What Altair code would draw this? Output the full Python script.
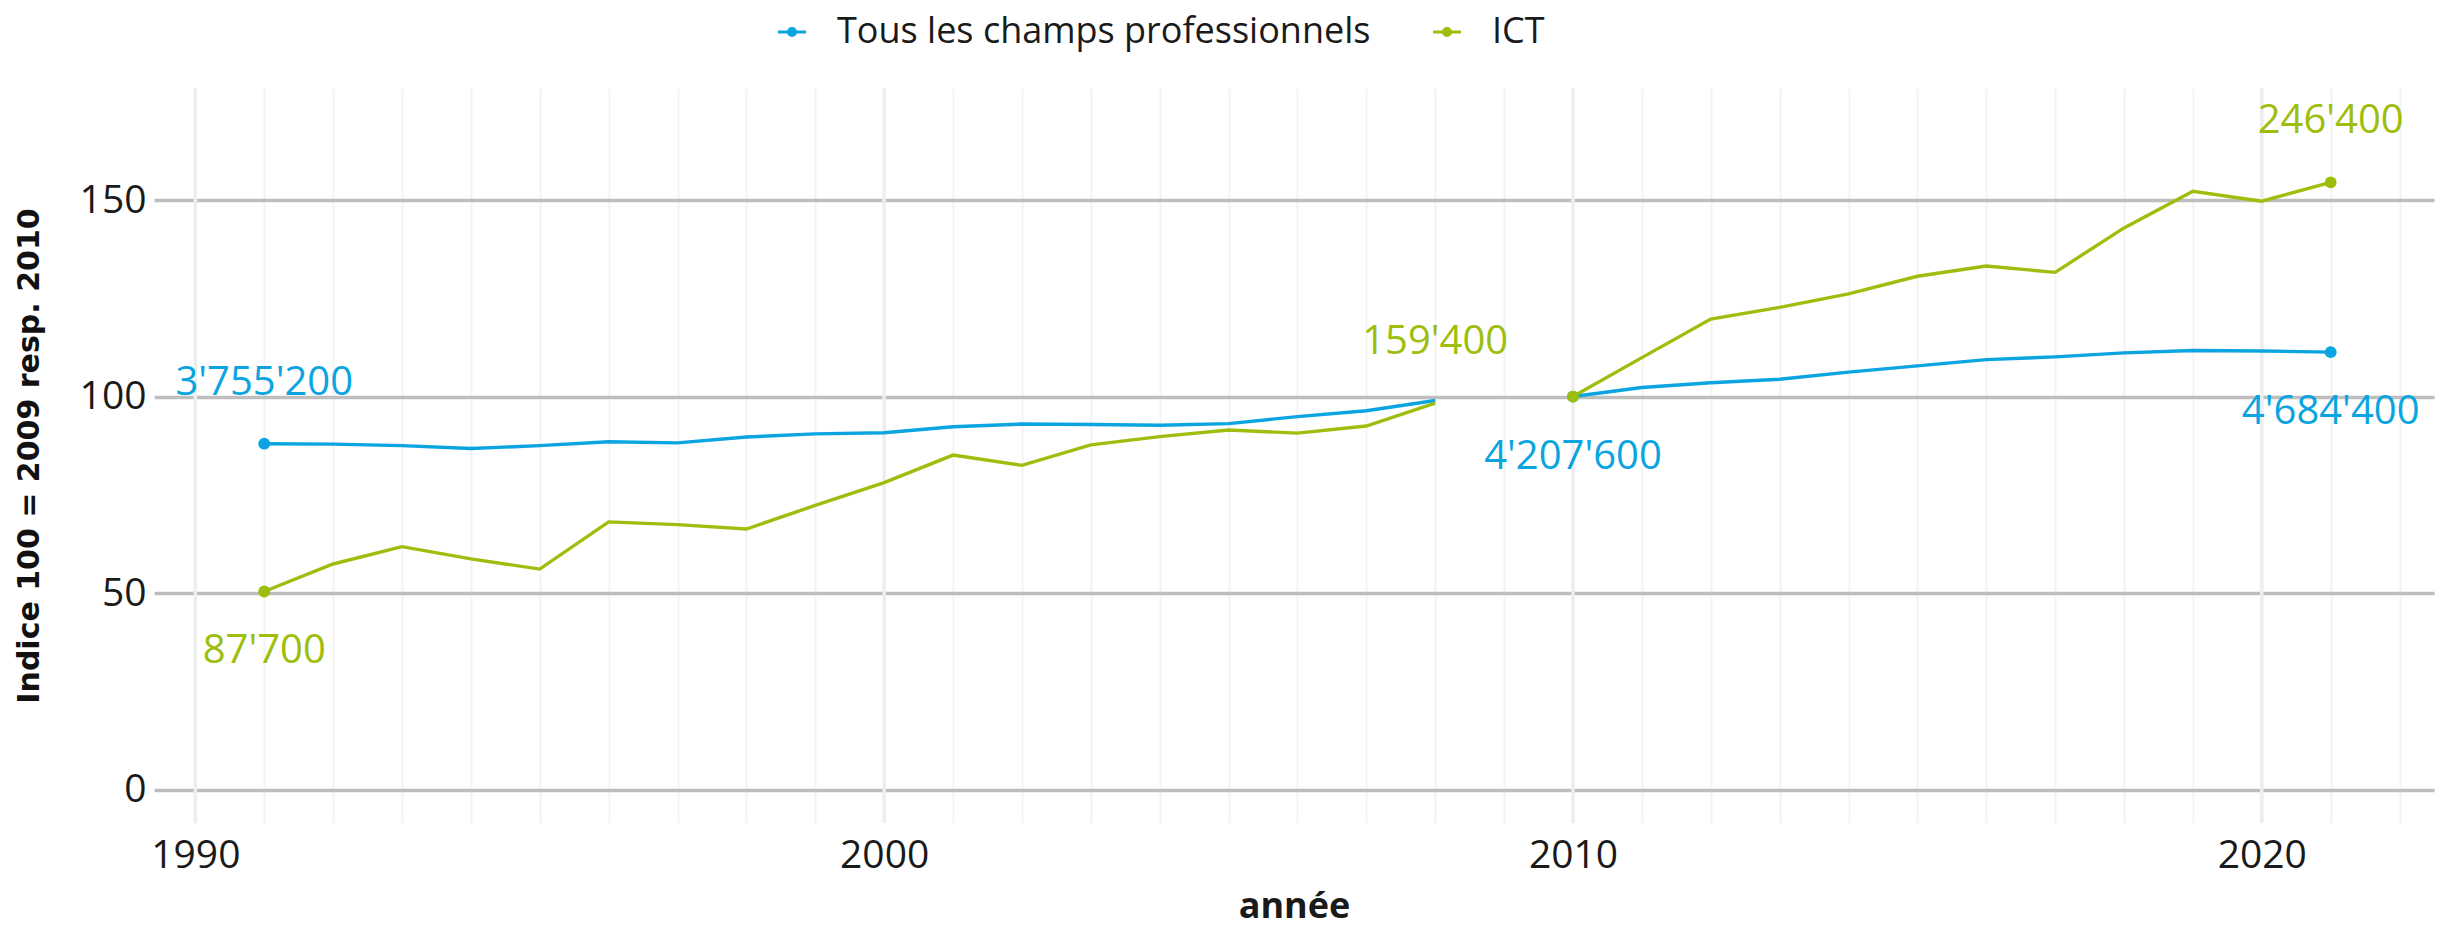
import altair as alt
import pandas as pd

# ---------------- data ----------------
series_names = ["Tous les champs professionnels", "ICT"]
series_colors = ["#0AA5E0", "#9DBE0C"]

years_1 = list(range(1991, 2009))
years_2 = list(range(2010, 2022))

all_1 = [88.0, 87.9, 87.5, 86.8, 87.5, 88.5, 88.2, 89.7, 90.5, 90.8,
         92.3, 93.0, 92.9, 92.7, 93.1, 94.9, 96.4, 99.0]
all_2 = [100.0, 102.3, 103.5, 104.4, 106.2, 107.8, 109.4, 110.1, 111.1,
         111.7, 111.6, 111.3]
ict_1 = [50.4, 57.4, 61.8, 58.7, 56.1, 68.1, 67.4, 66.3, 72.3, 78.1,
         85.1, 82.5, 87.7, 89.8, 91.5, 90.7, 92.5, 98.3]
ict_2 = [100.0, 109.9, 119.7, 122.7, 126.1, 130.6, 133.2, 131.6, 142.9,
         152.2, 149.7, 154.5]

point_years = [1991, 2010, 2021]

label_years = [1991, 1991, 2008, 2010, 2021, 2021]
label_series = [0, 1, 1, 0, 1, 0]
label_texts = ["3'755'200", "87'700", "159'400", "4'207'600", "246'400", "4'684'400"]
label_sides = ["above", "below", "above", "below", "above", "below"]

x_tick_years = list(range(1990, 2023))
major_years = [1990, 2000, 2010, 2020]
y_ticks = [0, 50, 100, 150]

# ---------------- tables ----------------
rows = []
for s_idx, segs in enumerate([[(years_1, all_1), (years_2, all_2)],
                              [(years_1, ict_1), (years_2, ict_2)]]):
    for g_idx, (yrs, vals) in enumerate(segs):
        for y, v in zip(yrs, vals):
            rows.append({"year": y, "value": v, "series": series_names[s_idx],
                         "seg": f"{s_idx}-{g_idx}"})
df = pd.DataFrame(rows)
lookup = {(r["series"], r["year"]): r["value"] for r in rows}

df_points = df[df["year"].isin(point_years)]

lab_rows = []
for y, s, t, side in zip(label_years, label_series, label_texts, label_sides):
    name = series_names[s]
    lab_rows.append({"year": y, "value": lookup[(name, y)], "series": name,
                     "text": t, "side": side})
df_labels = pd.DataFrame(lab_rows)
df_major = pd.DataFrame({"year": major_years})

# ---------------- layout ----------------
W, H = 2280, 735
FONT = "Open Sans"

xs = alt.Scale(domain=[1989.4, 2022.5], nice=False, zero=False)
ys = alt.Scale(domain=[-8.5, 178.5], nice=False, zero=False)
cs = alt.Scale(domain=series_names, range=series_colors)

x_axis = alt.Axis(
    values=x_tick_years, format="d",
    labelExpr="datum.value % 10 == 0 ? datum.label : ''",
    grid=True, gridColor="#f3f3f3", gridWidth=2,
    ticks=False, domain=False, labelOverlap=False, labelFlush=False,
    labelFont=FONT, labelFontSize=39, labelColor="#1a1a1a", labelPadding=13,
    title="année", titleFont=FONT, titleFontSize=36, titleFontWeight="bold",
    titleColor="#1a1a1a", titlePadding=14,
)
y_axis = alt.Axis(
    values=y_ticks, grid=True, gridColor="#bebebe", gridWidth=3.5,
    ticks=False, domain=False,
    labelFont=FONT, labelFontSize=39, labelColor="#1a1a1a", labelPadding=8,
    title="Indice 100 = 2009 resp. 2010", titleFont="DejaVu Sans",
    titleFontSize=30, titleFontWeight="bold", titleColor="#111111",
    titlePadding=35,
)

X = alt.X("year:Q", scale=xs, axis=x_axis)
Y = alt.Y("value:Q", scale=ys, axis=y_axis)

legend_symbol = ("M-1,0L1,0"
                 "M-0.25,0a0.25,0.25 0 1,0 0.5,0a0.25,0.25 0 1,0 -0.5,0"
                 "M-0.12,0a0.12,0.12 0 1,0 0.24,0a0.12,0.12 0 1,0 -0.24,0")

legend = alt.Legend(
    orient="none", legendX=620, legendY=-74, direction="horizontal",
    title=None, labelFont=FONT, labelFontSize=36, labelColor="#1a1a1a",
    labelLimit=2000,
    symbolType=legend_symbol, symbolSize=784, symbolStrokeWidth=3,
    labelOffset=27, columnPadding=56, padding=0,
)

major = alt.Chart(df_major).mark_rule(color="#eeeeee", strokeWidth=3.5).encode(
    x=X, y=alt.value(0), y2=alt.value(H)
)

lines = alt.Chart(df).mark_line(strokeWidth=3.4).encode(
    x=X, y=Y,
    color=alt.Color("series:N", scale=cs, legend=legend, sort=series_names),
    detail="seg:N",
)

points = alt.Chart(df_points).mark_circle(size=140, opacity=1).encode(
    x=X, y=Y, color=alt.Color("series:N", scale=cs, legend=None)
)

above = alt.Chart(df_labels).transform_filter("datum.side == 'above'").mark_text(
    font=FONT, fontSize=40, dy=-61, baseline="middle", align="center"
).encode(x=X, y=Y, text="text:N",
         color=alt.Color("series:N", scale=cs, legend=None))

below = alt.Chart(df_labels).transform_filter("datum.side == 'below'").mark_text(
    font=FONT, fontSize=40, dy=60, baseline="middle", align="center"
).encode(x=X, y=Y, text="text:N",
         color=alt.Color("series:N", scale=cs, legend=None))

chart = alt.layer(major, lines, points, above, below).properties(
    width=W, height=H,
    autosize=alt.AutoSizeParams(type="none"),
    padding={"left": 146, "top": 80, "right": 11, "bottom": 96},
    background="white",
).configure_view(stroke=None)

chart.save("out.html", embed_options={"renderer": "svg", "actions": False})
